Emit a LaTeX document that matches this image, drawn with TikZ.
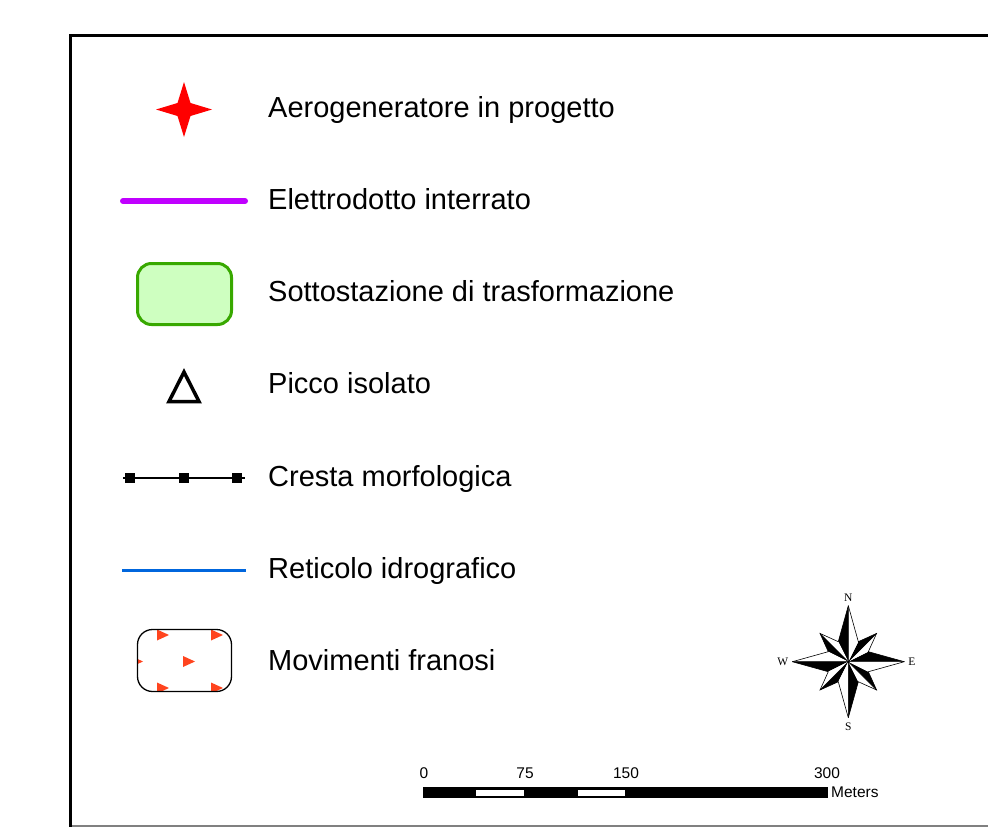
\documentclass[tikz,border=0pt]{standalone}
\usepackage{fontspec}
\setmainfont{Liberation Sans}
\newfontfamily\compfont{Liberation Serif}
\definecolor{cablecol}{RGB}{192,0,255}
\definecolor{substroke}{RGB}{56,168,0}
\definecolor{subfill}{RGB}{206,255,192}
\definecolor{rivercol}{RGB}{0,102,221}
\definecolor{slidecol}{RGB}{255,68,30}
\begin{document}
\begin{tikzpicture}[x=1pt,y=-1pt,
  lbl/.style={anchor=base west,inner sep=0pt,font=\fontsize{29}{33}\selectfont},
  scl/.style={anchor=base,inner sep=0pt,font=\fontsize{15.5}{17}\selectfont},
  cmp/.style={inner sep=0pt,font=\compfont\fontsize{11.5}{12}\selectfont},
  slidetri/.style={fill=slidecol},
  armline/.style={draw=black,line width=0.6pt,line join=miter}]
\useasboundingbox (0,0) rectangle (988,827);
% frame
\draw[gray,line width=1.5pt] (70,826) -- (988,826);
\draw[line width=3pt,line join=miter] (988,35) -- (70,35) -- (70,828);

% labels
\node[lbl] (t1) at (268,117) {Aerogeneratore in progetto};
\node[lbl] (t2) at (268,209.5) {Elettrodotto interrato};
\node[lbl] (t3) at (268,301.5) {Sottostazione di trasformazione};
\node[lbl] (t4) at (268,393.5) {Picco isolato};
\node[lbl] (t5) at (268,486) {Cresta morfologica};
\node[lbl] (t6) at (268,578) {Reticolo idrografico};
\node[lbl] (t7) at (268,670) {Movimenti franosi};

% 1 star
\fill[red] (184,82) -- (190.5,103) -- (212,109.5) -- (190.5,116) -- (184,137)
  -- (177.5,116) -- (156,109.5) -- (177.5,103) -- cycle;
% 2 cable
\draw[cablecol,line width=6pt,line cap=round] (123,201) -- (245,201);
% 3 substation
\draw[draw=substroke,fill=subfill,line width=3pt,rounded corners=14pt]
  (137.5,263.5) rectangle (231.5,324.5);
% 4 peak
\draw[line width=3.5pt,line join=miter] (184,372) -- (199,401.5) -- (169,401.5) -- cycle;
% 5 ridge
\draw[line width=2pt] (123,478) -- (245,478);
\foreach \xx in {130,184,237} \fill (\xx-5,473) rectangle (\xx+5,483);
% 6 river
\draw[rivercol,line width=3pt] (122,570) -- (246,570);
% 7 landslides
\begin{scope}
  \clip[rounded corners=15pt] (137.5,629.5) rectangle (231.5,691.5);
  \foreach \xx/\yy in {157/635,211/635,183/661.5,131/661.5,157/688,211/688}
    \fill[slidetri] (\xx,\yy-5.5) -- (\xx+12,\yy) -- (\xx,\yy+5.5) -- cycle;
\end{scope}
\draw[line width=1.3pt,rounded corners=15pt] (137.5,629.5) rectangle (231.5,691.5);

% compass rose
\begin{scope}[shift={(848.3,661.7)},yscale=-1]
  \foreach \k in {0,90,180,270}{
    \fill[black] (0,0) -- (\k:56) -- (\k+26.57:22.4) -- cycle;
    \fill[white] (0,0) -- (\k+26.57:22.4) -- (\k+45:40) -- cycle;
    \fill[black] (0,0) -- (\k+45:40) -- (\k+63.43:22.4) -- cycle;
    \fill[white] (0,0) -- (\k+63.43:22.4) -- (\k+90:56) -- cycle;
  }
  \foreach \k in {0,90,180,270}{
    \draw[armline] (\k:56) -- (\k+26.57:22.4) -- (\k+45:40) -- (\k+63.43:22.4) -- (\k+90:56);
    \draw[line width=0.5pt] (\k:56) -- (0,0) -- (\k+45:40);
  }
  \node[cmp] (cN) at (0,64) {N};
  \node[cmp] (cS) at (0,-65.5) {S};
  \node[cmp] (cW) at (-65.5,0) {W};
  \node[cmp] (cE) at (63.7,0) {E};
\end{scope}

% scale bar
\fill[black] (423,787) rectangle (828,798);
\fill[white] (476,789.5) rectangle (523.5,795.5);
\fill[white] (578,789.5) rectangle (624.5,795.5);
\node[scl] (s0) at (424,778) {0};
\node[scl] (s75) at (525,778) {75};
\node[scl] (s150) at (626,778) {150};
\node[scl] (s300) at (827,778) {300};
\node[anchor=base west,inner sep=0pt,font=\fontsize{15.5}{17}\selectfont] (sm) at (831,797) {Meters};
\end{tikzpicture}
\end{document}
